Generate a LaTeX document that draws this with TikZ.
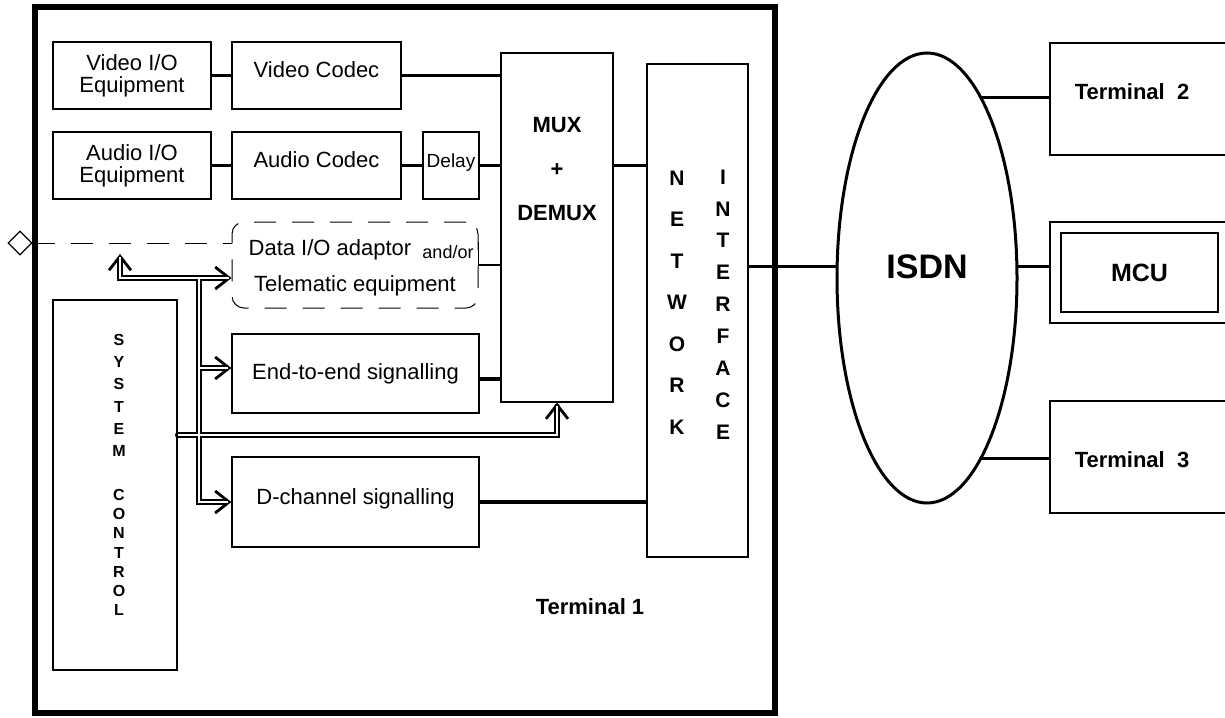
\documentclass[tikz,border=0pt]{standalone}
\usepackage{fontspec}
\setmainfont{Liberation Sans}
\usetikzlibrary{arrows.meta,shapes.geometric,calc}
\begin{document}
\begin{tikzpicture}
[x=0.5pt,y=-0.5pt,
cbarb/.tip = {Straight Barb[length=7pt,width=11pt,line width=1.4pt]},
blk/.style = {draw, line width=0.6pt, inner sep=0pt, align=center, font=\fontsize{11}{11}\selectfont},
one/.style = {text height=8pt, text depth=6pt},
conn/.style = {line width=1.6pt},
ctl/.style = {line width=2.6pt},
ctlw/.style = {white, line width=0.9pt},
dline/.style = {line width=0.5pt, dash pattern=on 11pt off 8pt},
bold/.style = {font=\bfseries\fontsize{11}{13}\selectfont, inner sep=0pt, align=center},]
\useasboundingbox (0,0) rectangle (1225,717);
% terminal 1 frame
\draw[line width=3pt] (35,7.5) rectangle (775,713);
\node (vio) at (132,75.5)[blk,minimum width=79pt,minimum height=33.5pt] {Video I/O\\Equipment};
\node (vcodec) at (316.5,75.5)[blk,one,minimum width=84.5pt,minimum height=33.5pt] {Video Codec};
\node (aio) at (132,165.5)[blk,minimum width=79pt,minimum height=33.5pt] {Audio I/O\\Equipment};
\node (acodec) at (316.5,165.5)[blk,one,minimum width=84.5pt,minimum height=33.5pt] {Audio Codec};
\node (delay) at (451,165.5)[blk,one,minimum width=28pt,minimum height=33.5pt,font=\fontsize{9.5}{9.5}\selectfont] {Delay};
\node (mux) at (557,227.5)[blk,minimum width=56pt,minimum height=174.5pt] {};
\node (muxt) at (557,169)[bold,font=\bfseries\fontsize{11}{22}\selectfont] {MUX\\+\\DEMUX};
\node (netif) at (697.5,310.5)[blk,minimum width=50.5pt,minimum height=246.5pt] {};
\node (nw) at (677,302.5)[bold,font=\bfseries\fontsize{10.5}{20.75}\selectfont] {N\\E\\T\\W\\O\\R\\K};
\node (ifc) at (723,304.5)[bold,font=\bfseries\fontsize{10.5}{15.95}\selectfont] {I\\N\\T\\E\\R\\F\\A\\C\\E};
\node (datab) at (355,265)[draw,dline,rounded corners=6pt,minimum width=123pt,minimum height=43pt] {};
\node (dat1) at (330,250)[font=\fontsize{11}{11}\selectfont] {Data I/O adaptor};
\node (dat2) at (448,252)[font=\fontsize{9}{9}\selectfont] {and/or};
\node (dat3) at (355,286)[font=\fontsize{11}{11}\selectfont] {Telematic equipment};
\node (diam) at (20,243)[draw,diamond,line width=0.6pt,minimum size=12pt,inner sep=0pt] {};
\node (e2e) at (355.5,373.5)[blk,minimum width=123.5pt,minimum height=39.5pt] {End-to-end signalling};
\node (dch) at (355.5,502)[blk,one,minimum width=123.5pt,minimum height=45pt] {D-channel signalling};
\node (sysc) at (115,485)[blk,minimum width=62pt,minimum height=185pt] {};
\node (sys1) at (119,395.5)[bold,font=\bfseries\fontsize{8}{11.1}\selectfont] {S\\Y\\S\\T\\E\\M};
\node (sys2) at (119,552.5)[bold,font=\bfseries\fontsize{8}{9.6}\selectfont] {C\\O\\N\\T\\R\\O\\L};
\node (t1) at (590,607)[bold] {Terminal 1};
% network side
\node (isdn) at (927,278)[draw,ellipse,line width=1.5pt,minimum width=90pt,minimum height=225pt,inner sep=0pt] {};
\node (isdnt) at (927,267)[font=\bfseries\fontsize{17}{17}\selectfont] {ISDN};
\node (t2) at (1145,99)[blk,minimum width=95pt,minimum height=56pt] {};
\node (t2t) at (1132,92)[bold] {Terminal~~2};
\node (mcuo) at (1145,272.5)[blk,minimum width=95pt,minimum height=50.5pt] {};
\node (mcu) at (1139.5,272.5)[blk,minimum width=78.5pt,minimum height=39.5pt,font=\bfseries\fontsize{12.5}{12.5}\selectfont] {MCU};
\node (t3) at (1145,457)[blk,minimum width=95pt,minimum height=56pt] {};
\node (t3t) at (1132,460)[bold] {Terminal~~3};
% data connections
\draw[conn] (vio)--(vcodec);
\draw[conn] (aio)--(acodec);
\draw[conn] (acodec)--(delay);
\draw[conn] (vcodec.east)--(vcodec.east -| mux.west);
\draw[conn] (delay.east)--(delay.east -| mux.west);
\draw[conn] (delay.east -| mux.east)--(delay.east -| netif.west);
\draw[conn] ([yshift=-2.75pt]e2e.east)--([yshift=-2.75pt]e2e.east -| mux.west);
\draw[conn] (dch.east)--(dch.east -| netif.west);
\draw[line width=0.6pt] ($(datab.east)+(0,-23)$)--(datab.east)--(datab.east -| mux.west);
\draw[dline] (diam.east)--(diam.east -| datab.west);
\draw[conn] (isdn.173)--(isdn.173 -| netif.east);
\draw[conn] (isdn.73.3)--(isdn.73.3 -| t2.west);
\draw[conn] (isdn.7)--(isdn.7 -| mcuo.west);
\draw[conn] (isdn.-73.3)--(isdn.-73.3 -| t3.west);
% control connections (black first, then the white core)
\coordinate (dtop) at (120,254);
\coordinate (dknee) at (120,278);
\coordinate (tk) at (199,278);
\coordinate (sk) at (557,435);
\draw[ctl,cbarb-cbarb] (dtop)--(dknee)--(dknee -| datab.west);
\draw[ctl,-cbarb] (tk) |- (dch.west);
\draw[ctl,cbarb-] ([yshift=2.75pt]e2e.west)--+(-33,0);
\draw[ctl,line cap=round,-cbarb] (sysc.east |- sk)--(sk)--(mux.south);
\draw[ctlw,shorten <=1.5pt,shorten >=1.5pt] (dtop)--(dknee)--(dknee -| datab.west);
\draw[ctlw,shorten >=1.5pt] (tk) |- (dch.west);
\draw[ctlw,shorten <=1.5pt] ([yshift=2.75pt]e2e.west)--+(-33,0);
\draw[ctlw,shorten >=1.5pt] (sysc.east |- sk)--(sk)--(mux.south);
\end{tikzpicture}
\end{document}
